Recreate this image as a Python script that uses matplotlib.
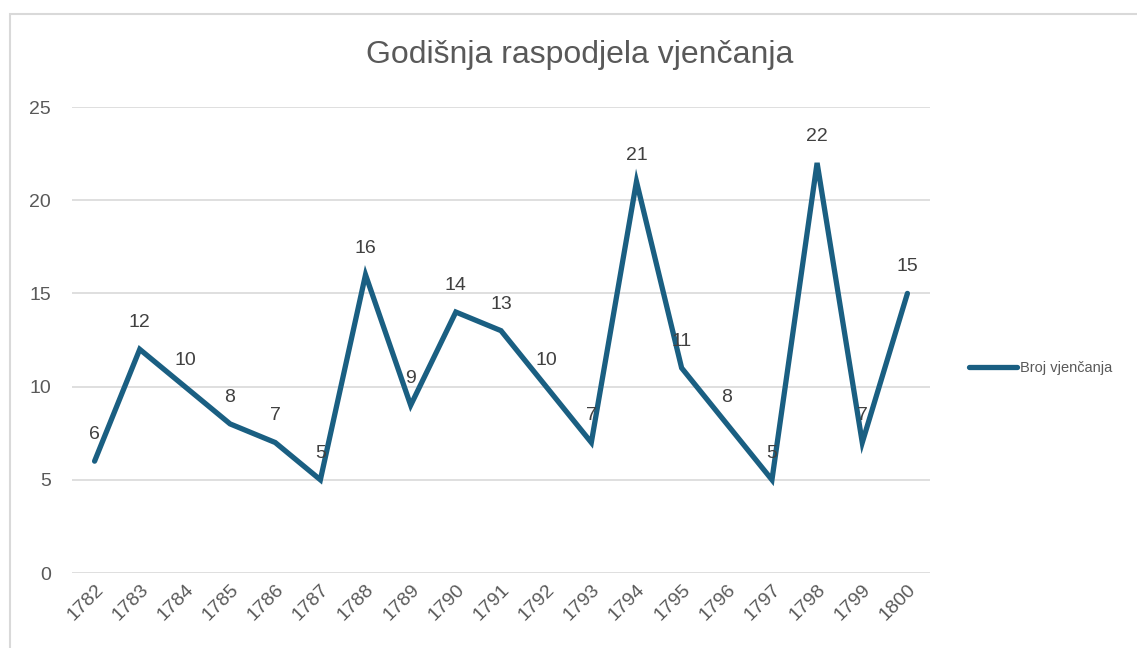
import matplotlib
matplotlib.use("Agg")
import matplotlib.pyplot as plt
from matplotlib.lines import Line2D
from matplotlib.patches import Rectangle
import matplotlib.transforms as mtransforms

years = ["1782", "1783", "1784", "1785", "1786", "1787", "1788", "1789", "1790", "1791",
         "1792", "1793", "1794", "1795", "1796", "1797", "1798", "1799", "1800"]
weddings = [6, 12, 10, 8, 7, 5, 16, 9, 14, 13, 10, 7, 21, 11, 8, 5, 22, 7, 15]
series_name = "Broj vjenčanja"
title = "Godišnja raspodjela vjenčanja"
yticks = [0, 5, 10, 15, 20, 25]

plt.rcParams['font.family'] = ['Liberation Sans', 'DejaVu Sans']
W, H = 1137, 648
fig = plt.figure(figsize=(W / 100, H / 100), dpi=100)

# chart border
fig.patches.append(Rectangle((10 / W, -0.1), 1.2, 1 - 14 / H + 0.1, transform=fig.transFigure,
                             fill=False, edgecolor='#d9d9d9', linewidth=1.5))

ax = fig.add_axes([72 / W, 1 - 573 / H, (930 - 72) / W, (573 - 107) / H])
color = '#1a5f82'
x = list(range(len(years)))
ax.plot(x, weddings, color=color, linewidth=3.8, solid_capstyle='round', solid_joinstyle='miter', zorder=3)
for xi, v in zip(x, weddings):
    ax.annotate(str(v), (xi, v), xytext=(0, 13), textcoords='offset points',
                ha='center', va='bottom', fontsize=14, color='#404040', zorder=4)

ax.set_xlim(-0.5, len(years) - 0.5)
ax.set_ylim(0, 25)
ax.set_yticks(yticks)
ax.set_yticklabels([str(t) for t in yticks], fontsize=14, color='#595959')
ax.set_xticks(x)
ax.set_xticklabels(years, fontsize=14, color='#595959', rotation=45, ha='right', rotation_mode='anchor')
offset = mtransforms.ScaledTranslation(8 / 100, 0, fig.dpi_scale_trans)
for lab in ax.get_xticklabels():
    lab.set_transform(lab.get_transform() + offset)
ax.tick_params(axis='both', length=0)
ax.tick_params(axis='y', pad=15)
ax.tick_params(axis='x', pad=6)
ax.grid(axis='y', color='#d9d9d9', linewidth=1.2)
ax.set_axisbelow(True)
for s in ax.spines.values():
    s.set_visible(False)

fig.text(580 / W, 1 - 55 / H, title, ha='center', va='center', fontsize=23, color='#595959')

handle = Line2D([0], [0], color=color, linewidth=3.8, solid_capstyle='round')
fig.legend([handle], [series_name], loc='center left', bbox_to_anchor=(956 / W, 1 - 368 / H),
           frameon=False, fontsize=10.5, labelcolor='#595959', handlelength=3.3, handletextpad=0.2)

fig.savefig('out.png', dpi=100)
